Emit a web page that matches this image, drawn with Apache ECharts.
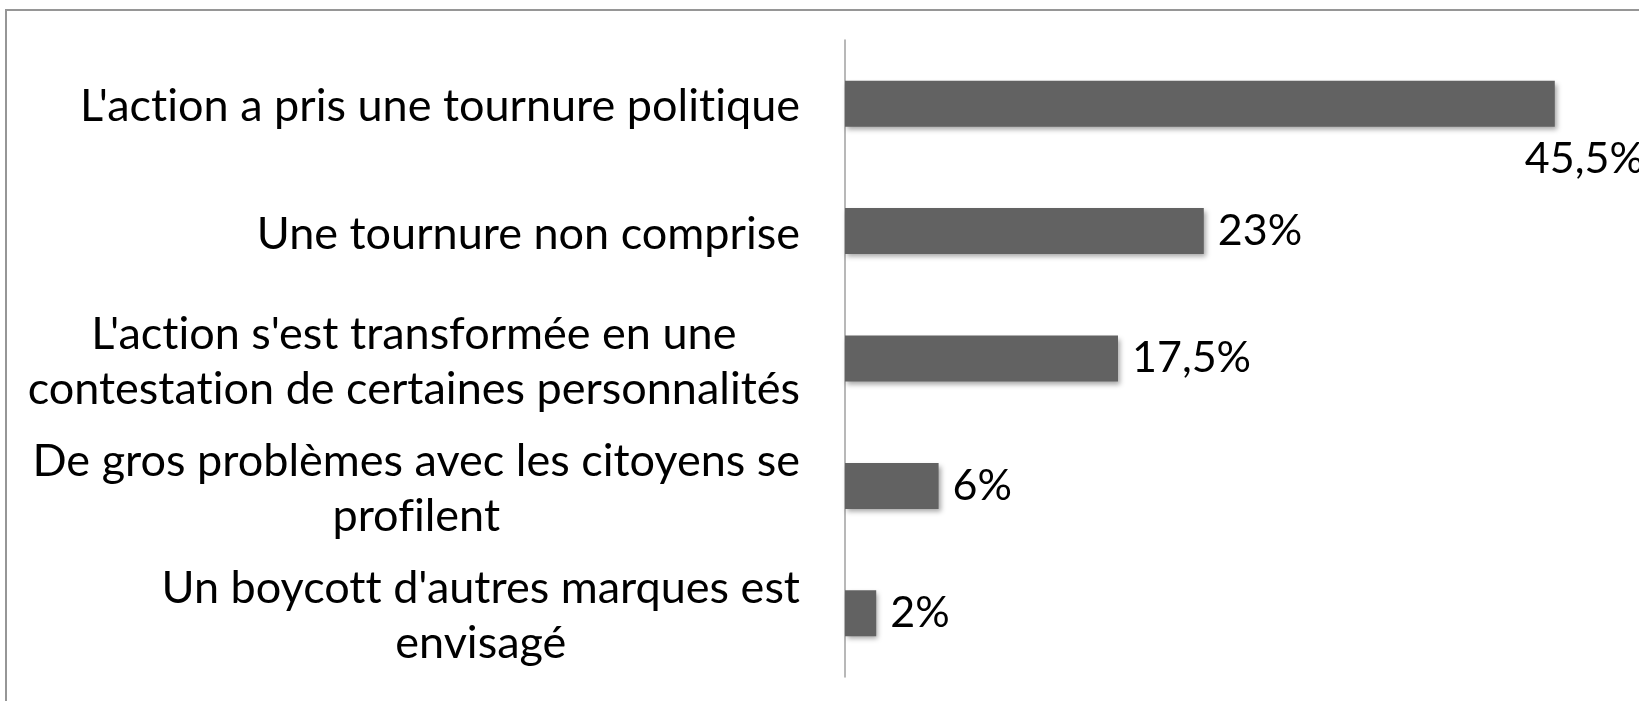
<!DOCTYPE html>
<html>
<head>
<meta charset="utf-8">
<script src="https://cdn.jsdelivr.net/npm/echarts@6/dist/echarts.min.js"></script>
<style>
  html, body { margin: 0; padding: 0; background: #fff; }
  #chart { width: 1639px; height: 701px; }
</style>
</head>
<body>
<div id="chart"></div>
<script>
// Survey answers, top to bottom
const categories = [
  "L'action a pris une tournure politique",
  "Une tournure non comprise",
  "L'action s'est transformée en une\ncontestation de certaines personnalités",
  "De gros problèmes avec les citoyens se\nprofilent",
  "Un boycott d'autres marques est\nenvisagé"
];
// Share of respondents (%)
const values = [45.5, 23, 17.5, 6, 2];

const FONT = 'Lato, "Open Sans", sans-serif';

const fmt = v => String(v).replace('.', ',') + '%';
// keep "ti", "tt", "fi" as separate glyphs (no ligatures)
const noLig = s => s.replace(/([tf])(?=[it])/g, '$1\u200C');

const chart = echarts.init(document.getElementById('chart'), null, { renderer: 'canvas' });

chart.setOption({
  animation: false,
  backgroundColor: '#ffffff',
  graphic: [{
    type: 'rect',
    shape: { x: 6, y: 10, width: 1700, height: 760 },
    style: { fill: 'none', stroke: '#969696', lineWidth: 2 },
    silent: true
  }],
  grid: { left: 845, top: 40, width: 780, bottom: 24, containLabel: false },
  xAxis: {
    type: 'value',
    min: 0,
    max: 50,
    show: false
  },
  yAxis: {
    type: 'category',
    inverse: true,
    data: categories,
    axisLine: { show: true, lineStyle: { color: '#a0a0a0', width: 1.5 } },
    axisTick: { show: false },
    axisLabel: {
      margin: 45,
      align: 'right',
      padding: [6, 0, 0, 0],
      // each line is centred inside the right-aligned block
      formatter: v => v.split('\n').map(s => '{c|' + noLig(s) + '}').join('\n'),
      rich: {
        c: {
          align: 'center',
          fontSize: 45,
          lineHeight: 55,
          color: '#000',
          fontFamily: FONT
        }
      }
    }
  },
  series: [{
    type: 'bar',
    barWidth: 46,
    data: values.map((v, i) => i === 0
      ? { value: v, label: { offset: [-44, 55] } }
      : { value: v }),
    itemStyle: {
      color: '#626262',
      shadowColor: 'rgba(0,0,0,0.35)',
      shadowBlur: 5,
      shadowOffsetX: 2,
      shadowOffsetY: 3
    },
    label: {
      show: true,
      position: 'right',
      distance: 14,
      fontSize: 43,
      color: '#000',
      fontFamily: FONT,
      formatter: p => fmt(p.value)
    }
  }]
});
</script>
</body>
</html>
